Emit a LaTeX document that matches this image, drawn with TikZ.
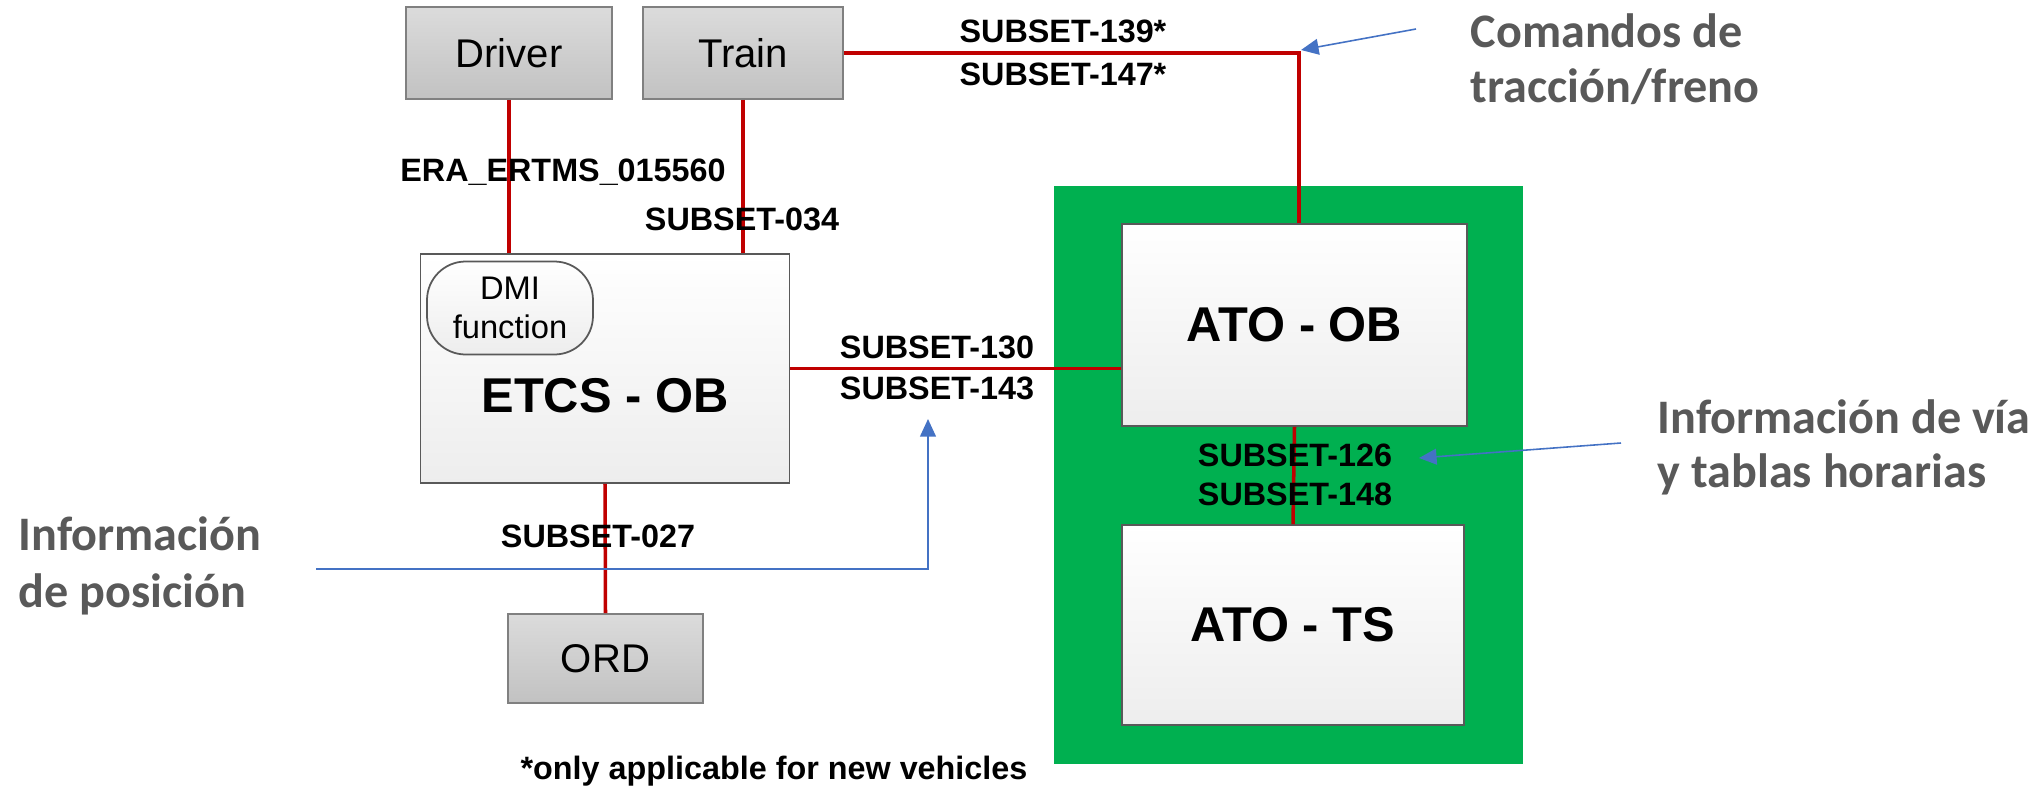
\documentclass[tikz,border=0pt]{standalone}
\usepackage{fontspec}
\setmainfont{Liberation Sans}
\newfontfamily\calib{Carlito}
\usetikzlibrary{arrows.meta}
\definecolor{redline}{HTML}{C00000}
\definecolor{greenbg}{HTML}{00B050}
\definecolor{blueline}{HTML}{4472C4}
\definecolor{graytext}{HTML}{595959}
\definecolor{boxedge}{HTML}{808080}
\definecolor{darkedge}{HTML}{595959}
\tikzset{
  extbox/.style={draw=boxedge, line width=0.5pt, top color=black!14, bottom color=black!24, inner sep=0pt, font=\fontsize{11.4}{13}\selectfont},
  mainbox/.style={draw=darkedge, line width=0.5pt, top color=white, bottom color=black!7, inner sep=0pt},
  bigtxt/.style={font=\fontsize{13.9}{16}\selectfont\bfseries, inner sep=0pt},
  lbl/.style={font=\fontsize{9.2}{11}\selectfont\bfseries, inner sep=0pt},
  note/.style={font=\calib\fontsize{13.7}{14.5}\selectfont\bfseries, text=graytext, inner sep=0pt, anchor=base west},
  redcon/.style={draw=redline, line width=1pt},
  bluecon/.style={draw=blueline, line width=0.45pt},
  bluearr/.style={bluecon, -{Triangle[length=5pt, width=4.5pt]}}
}
\begin{document}
\begin{tikzpicture}[x=0.1mm, y=-0.1mm]
\useasboundingbox (0,0) rectangle (2041,787);

% green container
\fill[greenbg] (1054,186) rectangle (1523,764);

% boxes
\node[extbox, minimum width=20.6mm, minimum height=9.2mm] (driver) at (509,53) {Driver};
\node[extbox, minimum width=20.0mm, minimum height=9.2mm] (train) at (743,53) {Train};
\node[mainbox, minimum width=36.9mm, minimum height=22.9mm] (etcs) at (605,368.5) {};
\node[bigtxt] (etcslbl) at (605,396) {ETCS - OB};
\node[mainbox, rounded corners=11pt, minimum width=16.6mm, minimum height=9.3mm, align=center, font=\fontsize{9.3}{11}\selectfont] (dmi) at (510,308) {DMI\\function};
\node[extbox, minimum width=19.5mm, minimum height=8.9mm] (ord) at (605.5,658.5) {ORD};
\node[mainbox, minimum width=34.5mm, minimum height=20.2mm, bigtxt] (atoob) at (1294.5,325) {ATO - OB};
\node[mainbox, minimum width=34.2mm, minimum height=20mm, bigtxt] (atots) at (1293,625) {ATO - TS};

% red connectors
\draw[redcon] (driver.south) -- (driver.south |- etcs.north);
\draw[redcon] (train.south) -- (train.south |- etcs.north);
\coordinate (tcorner) at (1299,53);
\draw[redcon] (train.east) -- (tcorner) -- (tcorner |- atoob.north);
\draw[redcon] (etcs.east) -- (etcs.east -| atoob.west);
\draw[redcon] (etcs.south) -- (ord.north);
\draw[redcon] (atoob.south) -- (atots.north);

% labels
\node[lbl] (l1) at (563,172) {ERA\_ERTMS\_015560};
\node[lbl] (l2) at (742,219) {SUBSET-034};
\node[lbl] (l3) at (1063,31) {SUBSET-139*};
\node[lbl] (l4) at (1063,74) {SUBSET-147*};
\node[lbl] (l5) at (937,347) {SUBSET-130};
\node[lbl] (l6) at (937,388) {SUBSET-143};
\node[lbl] (l7) at (1295,455) {SUBSET-126};
\node[lbl] (l8) at (1295,494) {SUBSET-148};
\node[lbl] (l9) at (598,536) {SUBSET-027};
\node[lbl] (l10) at (774,771) {*only applicable for new vehicles};

% annotations
\node[note] (n1) at (1470,47) {Comandos de};
\node[note] (n2) at (1470,102) {tracción/freno};
\node[note] (n3) at (1657,433) {Información de vía};
\node[note] (n4) at (1657,487) {y tablas horarias};
\node[note] (n5) at (18,550) {Información};
\node[note] (n6) at (18,607) {de posición};

% blue arrows
\coordinate (p0) at (316,569);
\coordinate (p1) at (928,569);
\coordinate (p2) at (928,419);
\draw[bluearr] (p0) -- (p1) -- (p2);
\coordinate (q0) at (1621,443);
\coordinate (q1) at (1419,458);
\draw[bluearr] (q0) -- (q1);
\coordinate (r0) at (1416,29);
\coordinate (r1) at (1301,50);
\draw[bluearr] (r0) -- (r1);
\end{tikzpicture}
\end{document}
